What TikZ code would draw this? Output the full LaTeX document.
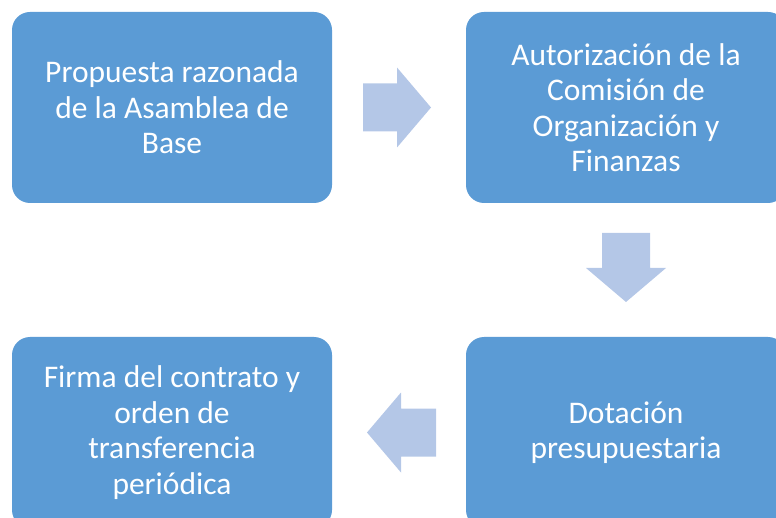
\documentclass[tikz,border=0pt]{standalone}
\usepackage{fontspec}
\setmainfont{Carlito}
\usetikzlibrary{calc}
\definecolor{cajaazul}{HTML}{5B9BD5}
\definecolor{flechaazul}{HTML}{B4C7E7}

\begin{document}
\begin{tikzpicture}[x=1pt,y=-1pt,
        caja/.style={rectangle,rounded corners=18pt,fill=cajaazul,text=white,
            minimum width=320pt,minimum height=191pt,align=center,
            font=\fontsize{31.5}{35.5}\selectfont},
        flecha/.style={fill=flechaazul}]
        \useasboundingbox (0,0) rectangle (776,518);
        \clip (0,0) rectangle (776,518);
        \node[caja] (propuesta) at (172,107.5) {Propuesta razonada\\de la Asamblea de\\Base};
        \node[caja] (autorizacion) at (626,107.5) {Autorización de la\\Comisión de\\Organización y\\Finanzas};
        \node[caja] (dotacion) at (626,432.5) {Dotación\\presupuestaria};
        \node[caja] (firma) at (172,432.5) {Firma del contrato y\\orden de\\transferencia\\periódica};
        % flechas entre cajas
        \fill[flecha] ($(propuesta.east)!0.5!(autorizacion.west)$) ++(-36,-24) -- ++(34,0) -- ++(0,-16)
            -- ++(34,40) -- ++(-34,40) -- ++(0,-16) -- ++(-34,0) -- cycle;
        \fill[flecha] ($(autorizacion.south)!0.5!(dotacion.north)$) ++(-24,-37) -- ++(48,0) -- ++(0,35)
            -- ++(16,0) -- ++(-40,34) -- ++(-40,-34) -- ++(16,0) -- cycle;
        \fill[flecha] ($(dotacion.west)!0.5!(firma.east)$) ++(-32,0) -- ++(34,-40) -- ++(0,16)
            -- ++(35,0) -- ++(0,48) -- ++(-35,0) -- ++(0,16) -- cycle;
    \end{tikzpicture}
\end{document}
